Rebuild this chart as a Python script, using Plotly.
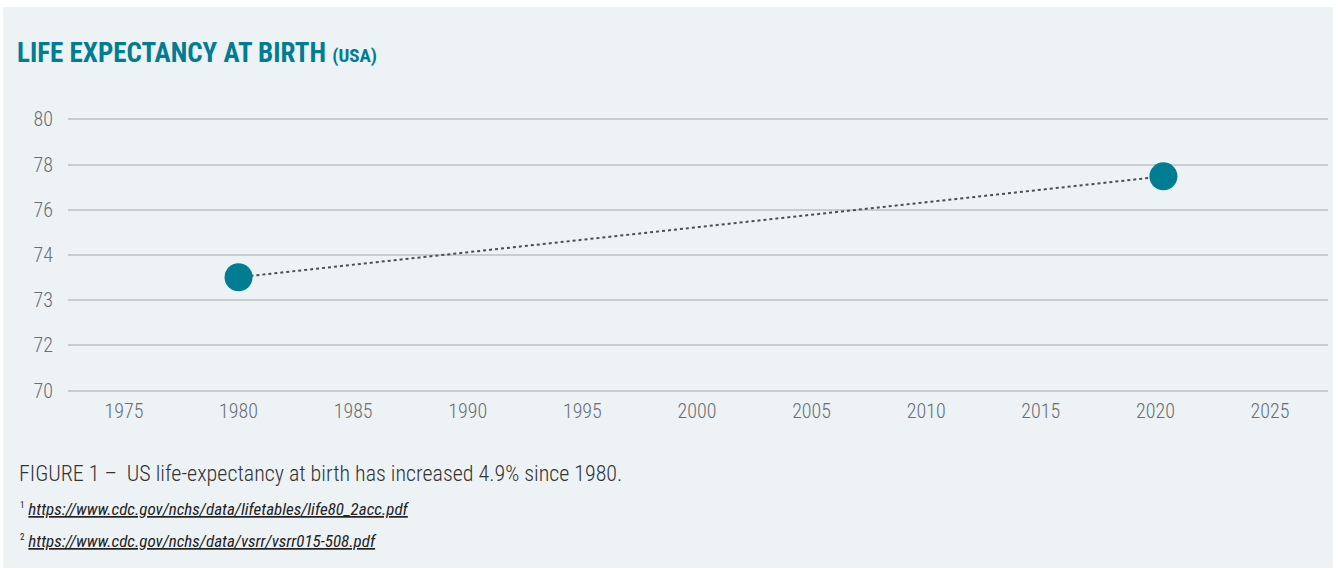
import plotly.graph_objects as go

years = [1980, 2020.35]
life_exp = [74.18, 77.9]

x_tick_vals = [1975, 1980, 1985, 1990, 1995, 2000, 2005, 2010, 2015, 2020, 2025]
x_tick_text = [str(v) for v in x_tick_vals]
y_tick_vals = [70, 71.6667, 73.3333, 75, 76.6667, 78.3333, 80]
y_tick_text = ["70", "72", "73", "74", "76", "78", "80"]

title_text = "LIFE EXPECTANCY AT BIRTH"
title_sub = "(USA)"
caption = "FIGURE 1 –  US life-expectancy at birth has increased 4.9% since 1980."
footnotes = [
    "https://www.cdc.gov/nchs/data/lifetables/life80_2acc.pdf",
    "https://www.cdc.gov/nchs/data/vsrr/vsrr015-508.pdf",
]

W, H = 1333, 568
L, R, T, B = 68, 1328, 114, 396
BG = "#EDF2F5"
TEAL = "#007C93"
FONT = "Roboto Condensed, Liberation Sans Narrow, DejaVu Sans Condensed, Roboto, sans-serif"


def px(xp):
    return (xp - L) / (R - L)


def py(yp):
    return (B - yp) / (B - T)


fig = go.Figure()
fig.add_trace(go.Scatter(
    x=years, y=life_exp, mode="lines+markers",
    line=dict(color="#4a4f55", width=2, dash="dot"),
    marker=dict(size=28, color=TEAL),
    hoverinfo="x+y", showlegend=False,
))

fig.add_shape(type="rect", xref="paper", yref="paper",
              x0=px(3), x1=px(W + 5), y0=py(H + 5), y1=py(7),
              fillcolor=BG, line=dict(width=0), layer="below")

annotations = [
    dict(text=f"<b>{title_text}</b> <span style='font-size:19px'><b>{title_sub}</b></span>",
         x=px(15), y=py(53), xanchor="left", yanchor="middle",
         font=dict(size=27, color=TEAL, family=FONT)),
    dict(text=caption, x=px(17), y=py(473), xanchor="left", yanchor="middle",
         font=dict(size=22, color="#333333", family=FONT, weight=300)),
]
for i, (fn, yy) in enumerate(zip(footnotes, [509, 541])):
    annotations.append(dict(
        text=f"<sup><span style='font-size:9px'>{i+1}</span></sup> <i><u>{fn}</u></i>",
        x=px(18), y=py(yy), xanchor="left", yanchor="middle",
        font=dict(size=17, color="#222222", family=FONT)))
for a in annotations:
    a.update(xref="paper", yref="paper", showarrow=False, align="left")

fig.update_layout(
    width=W, height=H,
    margin=dict(l=L, r=W - R, t=T, b=H - B, pad=0),
    paper_bgcolor="white", plot_bgcolor=BG,
    font=dict(family=FONT, color="#6b6e72", size=20),
    annotations=annotations,
    xaxis=dict(range=[1972.56, 2027.53], tickvals=x_tick_vals, ticktext=x_tick_text,
               showgrid=False, zeroline=False, showline=False, ticks="",
               tickfont=dict(size=20, color="#6b6e72", weight=300), ticklabelstandoff=1),
    yaxis=dict(range=[69.8, 80.2], tickvals=y_tick_vals, ticktext=y_tick_text,
               showgrid=True, gridcolor="#c9cdd1", gridwidth=1.5, zeroline=False,
               showline=False, ticks="", tickfont=dict(size=20, color="#6b6e72", weight=300),
               ticklabelstandoff=14),
)

fig.write_html("out.html")
